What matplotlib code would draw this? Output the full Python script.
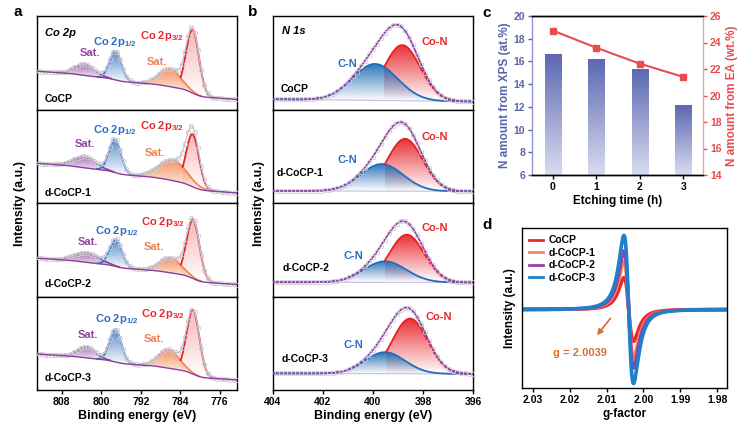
import matplotlib
matplotlib.use("Agg")
import matplotlib.pyplot as plt
import numpy as np
from matplotlib.patches import Polygon
from matplotlib.colors import to_rgb, LinearSegmentedColormap

plt.rcParams['font.family'] = ['Liberation Sans', 'DejaVu Sans']
plt.rcParams['font.weight'] = 'bold'
plt.rcParams['axes.labelweight'] = 'bold'
plt.rcParams['mathtext.fontset'] = 'custom'
plt.rcParams['mathtext.rm'] = 'Liberation Sans:bold'
plt.rcParams['mathtext.bf'] = 'Liberation Sans:bold'
plt.rcParams['mathtext.it'] = 'Liberation Sans:bold:italic'
plt.rcParams['axes.linewidth'] = 1.0

# ---------------- data ----------------
samples = ["CoCP", "d-CoCP-1", "d-CoCP-2", "d-CoCP-3"]

# Co 2p fitted components (center eV, height, sigma eV)
co_sat1_c = [803.4, 803.4, 802.9, 803.0]
co_sat1_h = [0.12, 0.12, 0.10, 0.12]
co_sat1_s = [2.0, 2.2, 2.5, 1.8]
co_p12_c = [797.1, 797.2, 797.0, 797.1]
co_p12_h = [0.31, 0.36, 0.29, 0.35]
co_p12_s = [1.2, 1.2, 1.25, 1.2]
co_sat2_c = [786.1, 785.5, 786.0, 786.3]
co_sat2_h = [0.19, 0.22, 0.16, 0.20]
co_sat2_s = [2.2, 2.8, 2.2, 2.1]
co_p32_c = [781.5, 781.5, 781.4, 781.4]
co_p32_h = [0.68, 0.56, 0.63, 0.685]
co_p32_s = [1.3, 1.3, 1.3, 1.3]
co_bg_hi = [0.41, 0.425, 0.41, 0.385]
co_bg_lo = [0.107, 0.107, 0.128, 0.107]

# N 1s fitted components
n_cn_c = [399.92, 399.65, 399.52, 399.52]
n_cn_h = [0.39, 0.29, 0.225, 0.23]
n_cn_s = [0.9, 0.85, 0.85, 0.8]
n_con_c = [398.83, 398.72, 398.65, 398.52]
n_con_h = [0.595, 0.56, 0.51, 0.59]
n_con_s = [0.72, 0.7, 0.7, 0.7]
n_bg_hi = [0.11, 0.13, 0.153, 0.178]
n_bg_lo = [0.085, 0.125, 0.15, 0.172]

# N content vs etching time
etch_time = [0, 1, 2, 3]
n_xps = [16.6, 16.2, 15.3, 12.1]
n_ea = [24.9, 23.6, 22.4, 21.4]

# EPR
epr_amp = [0.43, 0.65, 0.79, 1.0]
epr_g0 = 2.0040
epr_w = 0.00225
epr_colors = ['#e8282c', '#f5875e', '#9b3fa8', '#1f7fc8']

# ---------------- helpers ----------------
W, H = 751, 428


def box(l, t, r, b):
    return [l / W, 1 - b / H, (r - l) / W, (b - t) / H]


def gauss(x, c, h, s):
    return h * np.exp(-(x - c) ** 2 / (2 * s ** 2))


def grad_fill(ax, x, lo, hi, color, a_top, a_bot=0.0, z=1):
    verts = np.concatenate([np.column_stack([x, hi]),
                            np.column_stack([x[::-1], lo[::-1]])])
    patch = Polygon(verts, closed=True, facecolor='none', edgecolor='none')
    ax.add_patch(patch)
    img = np.zeros((128, 1, 4))
    img[..., :3] = to_rgb(color)
    img[:, 0, 3] = np.linspace(a_bot, a_top, 128)
    im = ax.imshow(img, extent=[x.min(), x.max(), lo.min(), hi.max()],
                   origin='lower', aspect='auto', zorder=z,
                   interpolation='bilinear')
    im.set_clip_path(patch)


def shirley(x_asc, peaks, lo, hi, k=0.5):
    tot = peaks.sum()
    S = np.cumsum(peaks) / tot
    lin = (x_asc - x_asc[0]) / (x_asc[-1] - x_asc[0])
    return lo + (hi - lo) * (k * S + (1 - k) * lin)


fig = plt.figure(figsize=(7.51, 4.28), dpi=100)

tops = [16, 109.5, 203, 296.5]
bots = [109.5, 203, 296.5, 390]

# ---------------- panel a ----------------
E = np.linspace(772.5, 813, 800)
a_text = [  # (x,y) for 2p1/2, 2p3/2, sat purple, sat orange, sample
    [(0.39, 0.72), (0.625, 0.79), (0.265, 0.60), (0.60, 0.51), (0.04, 0.11)],
    [(0.39, 0.78), (0.625, 0.82), (0.24, 0.63), (0.59, 0.535), (0.04, 0.11)],
    [(0.40, 0.70), (0.63, 0.795), (0.255, 0.58), (0.585, 0.53), (0.04, 0.13)],
    [(0.40, 0.755), (0.63, 0.81), (0.255, 0.59), (0.585, 0.545), (0.04, 0.125)],
]
for i in range(4):
    ax = fig.add_axes(box(37, tops[i], 237, bots[i]))
    p1 = gauss(E, co_sat1_c[i], co_sat1_h[i], co_sat1_s[i])
    p2 = gauss(E, co_p12_c[i], co_p12_h[i], co_p12_s[i])
    p3 = gauss(E, co_sat2_c[i], co_sat2_h[i], co_sat2_s[i])
    p4 = gauss(E, co_p32_c[i], co_p32_h[i], co_p32_s[i])
    bg = shirley(E, p1 + p2 + p3 + p4, co_bg_lo[i], co_bg_hi[i])
    env = bg + p1 + p2 + p3 + p4

    for p, col, a_top, lcol in [(p1, '#8e44a0', 0.8, '#8b3e9a'),
                                (p2, '#2a6fbd', 0.8, '#1f6fc0'),
                                (p3, '#f47a40', 0.85, '#f5814f')]:
        m = p > 0.003
        grad_fill(ax, E[m], bg[m], bg[m] + p[m], col, a_top, 0.02, z=1)
        ax.plot(E[m], bg[m] + p[m], color=lcol, lw=1.2, zorder=3)
    m = (p4 > p3) & (p4 > 0.003)
    grad_fill(ax, E[m], bg[m], bg[m] + p4[m], '#e83030', 0.35, 0.0, z=2)
    ax.plot(E[m], bg[m] + p4[m], color='#e82020', lw=1.3, zorder=4)

    ax.plot(E, env, color='#c0c0e2', lw=0.9, zorder=5)
    ax.plot(E[::13], env[::13], 'o', mfc='none', mec='#cccccc', ms=3.2,
            mew=0.6, zorder=5)
    ax.plot(E, bg, color='#8b3e9a', lw=1.0, zorder=6)

    ax.set_xlim(813, 772.5)
    ax.set_ylim(0, 1)
    ax.set_yticks([])
    t = a_text[i]
    ax.text(*t[0], r"Co 2p$_{\mathbf{1/2}}$", color='#2c6cbf', fontsize=8,
            ha='center', va='center', transform=ax.transAxes)
    ax.text(*t[1], r"Co 2p$_{\mathbf{3/2}}$", color='#e8282c', fontsize=8,
            ha='center', va='center', transform=ax.transAxes)
    ax.text(*t[2], "Sat.", color='#8e44a0', fontsize=8, ha='center',
            va='center', transform=ax.transAxes)
    ax.text(*t[3], "Sat.", color='#f0804f', fontsize=8, ha='center',
            va='center', transform=ax.transAxes)
    ax.text(*t[4], samples[i], color='black', fontsize=7.5, ha='left',
            va='center', transform=ax.transAxes)
    if i == 0:
        ax.text(0.04, 0.82, "Co 2p", style='italic', fontsize=8, ha='left',
                va='center', transform=ax.transAxes)
    if i < 3:
        ax.set_xticks([])
    else:
        ax.set_xticks([808, 800, 792, 784, 776])
        ax.tick_params(axis='x', labelsize=7.5, length=3, width=1, pad=2)
        ax.set_xlabel("Binding energy (eV)", fontsize=9, labelpad=2)

# ---------------- panel b ----------------
En = np.linspace(396, 404, 600)
b_text = [  # C-N, Co-N, sample
    [(0.37, 0.49), (0.81, 0.72), (0.04, 0.22)],
    [(0.37, 0.46), (0.81, 0.71), (0.02, 0.32)],
    [(0.40, 0.43), (0.81, 0.735), (0.05, 0.31)],
    [(0.40, 0.48), (0.83, 0.78), (0.045, 0.33)],
]
for i in range(4):
    ax = fig.add_axes(box(273, tops[i], 473, bots[i]))
    pc = gauss(En, n_cn_c[i], n_cn_h[i], n_cn_s[i])
    pr = gauss(En, n_con_c[i], n_con_h[i], n_con_s[i])
    bg = n_bg_lo[i] + (n_bg_hi[i] - n_bg_lo[i]) * (En - 396) / 8
    env = bg + pc + pr

    m = (pr > pc) & (pr > 0.003)
    grad_fill(ax, En[m], bg[m], bg[m] + pr[m], '#e8232a', 0.95, 0.0, z=1)
    mb = pc > 0.003
    grad_fill(ax, En[mb], bg[mb], bg[mb] + pc[mb], '#1f6db5', 0.95, 0.0, z=2)
    ax.plot(En, bg, color='#c9c6e6', lw=0.9, zorder=3)
    ax.plot(En, bg + pc, color='#1f6fc0', lw=1.3, zorder=4)
    ax.plot(En[m], bg[m] + pr[m], color='#e82020', lw=1.3, zorder=4)
    ax.plot(En, env, color='#8e44a6', lw=1.3, zorder=5)
    ax.plot(En[::12], env[::12], 'o', mfc='none', mec='#cccccc', ms=3.2,
            mew=0.6, zorder=5)

    ax.set_xlim(404, 396)
    ax.set_ylim(0, 1)
    ax.set_yticks([])
    t = b_text[i]
    ax.text(*t[0], "C-N", color='#2c6cbf', fontsize=8, ha='center',
            va='center', transform=ax.transAxes)
    ax.text(*t[1], "Co-N", color='#e8282c', fontsize=8, ha='center',
            va='center', transform=ax.transAxes)
    ax.text(*t[2], samples[i], color='black', fontsize=7.5, ha='left',
            va='center', transform=ax.transAxes)
    if i == 0:
        ax.text(0.045, 0.84, "N 1s", style='italic', fontsize=8, ha='left',
                va='center', transform=ax.transAxes)
    if i < 3:
        ax.set_xticks([])
    else:
        ax.set_xticks([404, 402, 400, 398, 396])
        ax.tick_params(axis='x', labelsize=7.5, length=3, width=1, pad=2)
        ax.set_xlabel("Binding energy (eV)", fontsize=9, labelpad=2)

fig.text(20 / W, 1 - 203 / H, "Intensity (a.u.)", rotation=90, fontsize=9,
         ha='center', va='center')
fig.text(259 / W, 1 - 203 / H, "Intensity (a.u.)", rotation=90, fontsize=9,
         ha='center', va='center')

# ---------------- panel c ----------------
blue_c = '#5a64aa'
red_c = '#ea4a50'
axc = fig.add_axes(box(532, 16, 703, 175))
bar_cmap = LinearSegmentedColormap.from_list('bar', ['#d9dcef', '#5c68b2'])
grad = np.linspace(0, 1, 128).reshape(-1, 1)
for xv, v in zip(etch_time, n_xps):
    axc.imshow(grad, extent=[xv - 0.19, xv + 0.19, 6, v], cmap=bar_cmap,
               origin='lower', aspect='auto', zorder=2)
axc.set_xlim(-0.48, 3.45)
axc.set_ylim(6, 20)
axc.set_xticks(etch_time)
axc.set_yticks([6, 8, 10, 12, 14, 16, 18, 20])
axc.tick_params(axis='x', labelsize=7.5, length=3, width=1, pad=2)
axc.tick_params(axis='y', labelsize=7.5, length=3, width=1, pad=2,
                colors=blue_c)
axc.spines['left'].set_color('#8e97d0')
axc.spines['right'].set_visible(False)
axc.set_xlabel("Etching time (h)", fontsize=8.5, labelpad=2)
axc.set_ylabel("N amount from XPS (at.%)", fontsize=8.5, color=blue_c,
               labelpad=2)

axc2 = axc.twinx()
axc2.plot(etch_time, n_ea, color=red_c, lw=1.5, marker='s', ms=5, zorder=3)
axc2.set_ylim(14, 26)
axc2.set_yticks([14, 16, 18, 20, 22, 24, 26])
axc2.tick_params(axis='y', labelsize=7.5, length=3, width=1, pad=2,
                 colors=red_c)
axc2.spines['right'].set_color('#f4a0a0')
axc2.spines['left'].set_visible(False)
axc2.set_ylabel("N amount from EA (wt.%)", fontsize=8.5, color=red_c,
                labelpad=3)

# ---------------- panel d ----------------
axd = fig.add_axes(box(522, 228, 727, 388))
g = np.linspace(1.977, 2.033, 1500)
xg = (g - epr_g0) / epr_w
shape = xg / (1 + xg ** 2) ** 2 / (3 * np.sqrt(3) / 16)
for lab, a, col in zip(samples, epr_amp, epr_colors):
    axd.plot(g, a * shape, color=col, lw=2.6, label=lab)
axd.set_xlim(2.033, 1.9773)
axd.set_ylim(-1.06, 1.10)
axd.set_yticks([])
axd.set_xticks([2.03, 2.02, 2.01, 2.00, 1.99, 1.98])
axd.set_xticklabels(['2.03', '2.02', '2.01', '2.00', '1.99', '1.98'])
axd.tick_params(axis='x', labelsize=7.5, length=3, width=1, pad=2)
axd.set_xlabel("g-factor", fontsize=8.5, labelpad=2)
axd.set_ylabel("Intensity (a.u.)", fontsize=8.5, labelpad=4)
leg = axd.legend(loc='upper left', frameon=False, fontsize=7.5,
                 handlelength=1.3, labelspacing=0.25, handletextpad=0.6,
                 borderaxespad=0.3)
for ln in leg.get_lines():
    ln.set_linewidth(2)
axd.annotate("", xy=(2.0131, -0.378), xytext=(2.0085, -0.09),
             arrowprops=dict(arrowstyle='-|>', color='#d9703a', lw=1.3,
                             mutation_scale=8))
axd.text(2.0172, -0.586, "g = 2.0039", color='#d9703a', fontsize=8,
         ha='center', va='center')

# panel letters
for lab, x, y in [('a', 18, 12), ('b', 253, 12), ('c', 487, 13), ('d', 487, 225)]:
    fig.text(x / W, 1 - y / H, lab, fontsize=11, fontweight='bold',
             ha='center', va='center')

fig.savefig("out.png", dpi=100)
